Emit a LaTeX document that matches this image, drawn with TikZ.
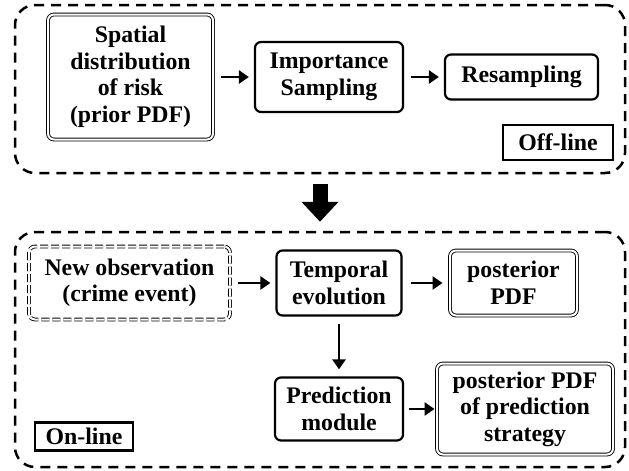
\documentclass[tikz,border=0pt]{standalone}
\usepackage{fontspec}
\setmainfont{Liberation Serif}
\usetikzlibrary{arrows.meta}
\tikzset{
    box/.style={draw, line width=2.2pt, rounded corners=6pt, align=center,
        inner sep=0pt, font=\bfseries\fontsize{23.8}{26.5}\selectfont},
    dbox/.style={box, line width=0.9pt, double, double distance=2pt},
    tagbox/.style={box, rounded corners=0pt},
    frame/.style={draw, dashed, dash pattern=on 10pt off 7pt, line width=2.5pt,
        rounded corners=20pt, inner sep=0pt},
    conn/.style={-{Triangle[length=10pt,width=13pt]}, line width=2.5pt},
}
\begin{document}
\begin{tikzpicture}[x=1pt,y=-1pt]
\useasboundingbox (0,0) rectangle (629,471);
% the two phases
\node[frame, minimum width=610, minimum height=168] (offframe) at (320,89) {};
\node[frame, minimum width=610, minimum height=235] (onframe) at (320,349.5) {};
% off-line part
\node[dbox, minimum width=165, minimum height=125] (spatial) at (130.5,77) {Spatial\\distribution\\of risk\\(prior PDF)};
\node[box, minimum width=148, minimum height=70] (importance) at (329,77) {Importance\\Sampling};
\node[box, minimum width=153, minimum height=45] (resampling) at (521.5,77) {Resampling};
\node[tagbox, minimum width=110, minimum height=35] (offtag) at (558,142.5) {Off-line};
% on-line part
\node[dbox, dashed, dash pattern=on 8pt off 3pt, minimum width=201, minimum height=73] (newobs) at (129.5,283) {New observation\\(crime event)};
\node[box, minimum width=125, minimum height=65] (temporal) at (339,283) {Temporal\\evolution};
\node[dbox, minimum width=127, minimum height=65] (posterior) at (513.5,283) {posterior\\PDF};
\node[box, minimum width=128, minimum height=63] (prediction) at (339,409) {Prediction\\module};
\node[dbox, minimum width=176, minimum height=91] (postpred) at (525,409) {posterior PDF\\of prediction\\strategy};
\node[tagbox, minimum width=98, minimum height=28] (ontag) at (84,436.5) {On-line};
% connectors
\draw[conn, shorten <=8pt, shorten >=5pt] (spatial) -- (importance);
\draw[conn, shorten <=7pt, shorten >=5pt] (importance) -- (resampling);
\draw[conn, shorten <=8pt, shorten >=5pt] (newobs) -- (temporal);
\draw[conn, shorten <=8pt, shorten >=7pt] (temporal) -- (posterior);
\draw[conn, shorten <=7pt, shorten >=7pt] (temporal) -- (prediction);
\draw[conn, shorten <=5pt, shorten >=2pt] (prediction) -- (postpred);
\draw[-{Triangle[length=20pt,width=36pt]}, line width=15pt, shorten <=10pt, shorten >=9pt] (offframe) -- (onframe);
\end{tikzpicture}
\end{document}
